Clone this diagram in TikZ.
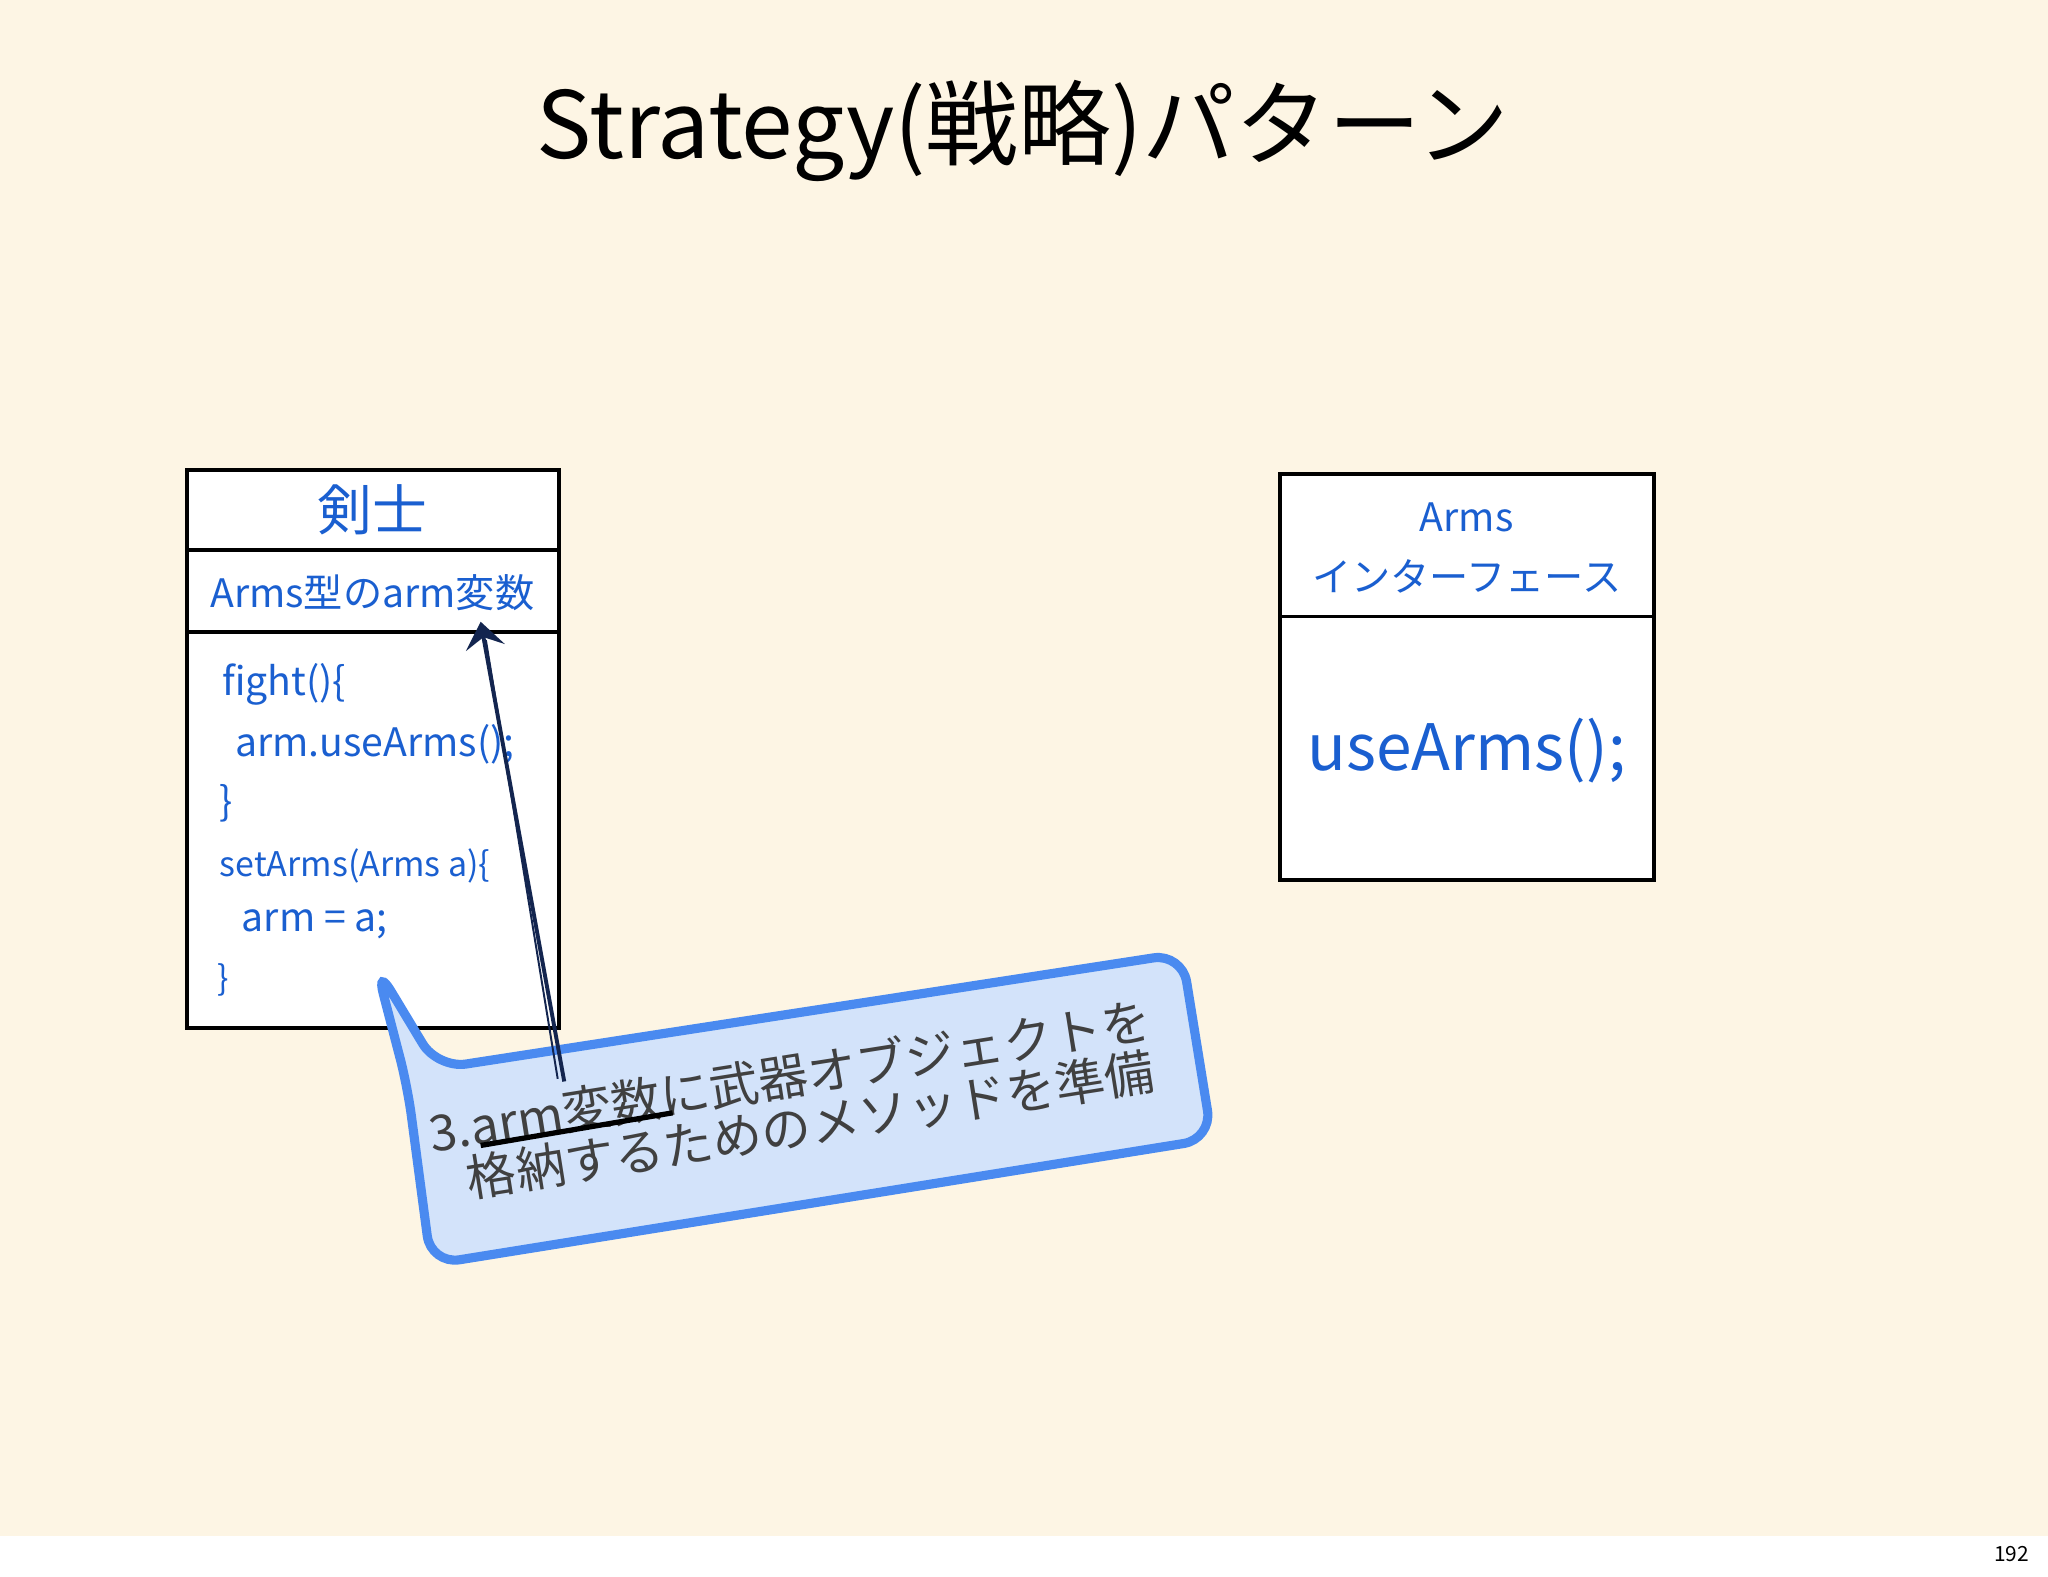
\documentclass[tikz,border=0pt]{standalone}
\usepackage{fontspec}
\setmainfont{Noto Sans CJK JP}
\usetikzlibrary{arrows.meta}
\definecolor{bg}{HTML}{FDF5E4}
\definecolor{tb}{HTML}{1A5FD0}
\definecolor{cfill}{HTML}{D3E3FA}
\definecolor{cedge}{HTML}{4A8AF0}
\definecolor{navy}{HTML}{13254F}
\tikzset{px/.style={x=1pt,y=-1pt},
  box/.style={draw=black,line width=3pt,fill=white},
  bt/.style={text=tb,inner sep=0pt,anchor=west}}
\begin{document}
\begin{tikzpicture}[px]
\useasboundingbox (0,0) rectangle (1568,1207);
\fill[bg] (0,0) rectangle (1568,1176);
\fill[white] (0,1176) rectangle (1568,1207);
\node[font=\fontsize{16}{18}\selectfont] (pg) at (1540,1190) {192};
\node[font=\fontsize{71}{78}\selectfont] (title) at (783,100) {Strategy(戦略)パターン};
% Kenshi box
\draw[box] (143,360) rectangle (428,787);
\draw[line width=3pt] (143,421) -- (428,421) (143,484) -- (428,484);
\node[text=tb,font=\fontsize{42}{46}\selectfont] (kt) at (285,390) {剣士};
\node[text=tb,font=\fontsize{30}{32}\selectfont] (kv) at (285,454) {Arms型のarm変数};
\node[bt,font=\fontsize{30}{32}\selectfont] (c1) at (170,524) {fight()\{};
\node[bt,font=\fontsize{30}{32}\selectfont] (c2) at (180,570) {arm.useArms();};
\node[bt,font=\fontsize{30}{32}\selectfont] (c3) at (168,615) {\}};
\node[bt,font=\fontsize{26}{28}\selectfont] (c4) at (168,663) {setArms(Arms a)\{};
\node[bt,font=\fontsize{30}{32}\selectfont] (c5) at (185,708) {arm = a;};
\node[bt,font=\fontsize{26}{28}\selectfont] (c6) at (166,750) {\}};
% Arms box
\draw[box] (980,363) rectangle (1266,674);
\draw[line width=3pt] (980,472) -- (1266,472);
\node[text=tb,font=\fontsize{30}{32}\selectfont] (a1) at (1123,396) {Arms};
\node[text=tb,font=\fontsize{30}{32}\selectfont] (a2) at (1123,441) {インターフェース};
\node[text=tb,font=\fontsize{49}{54}\selectfont] (a3) at (1123,575) {useArms();};
% callout
\draw[cedge,fill=cfill,line width=7pt,rounded corners=22pt]
 (288,740) -- (335,818) -- (905,730) -- (928,872) -- (330,968) -- (312,832) -- cycle;
\node[rotate=9,text=black!75,align=left,inner sep=0pt,font=\fontsize{38}{39}\selectfont] (ct) at (608,843)
 {3.arm変数に武器オブジェクトを\\ \hspace{0.6em}格納するためのメソッドを準備};
\coordinate (u1) at (368,877); \coordinate (u2) at (515,852);
\draw[black,line width=4pt] (u1) -- (u2);
\coordinate (s) at (432,828);
\coordinate (t) at (368,476);
\draw[navy,line width=3pt,-{Stealth[length=20pt,width=30pt,inset=8pt]}] (s) -- (t);
\draw[navy,line width=1.5pt] (427,826) -- (372,490);
\end{tikzpicture}
\end{document}
